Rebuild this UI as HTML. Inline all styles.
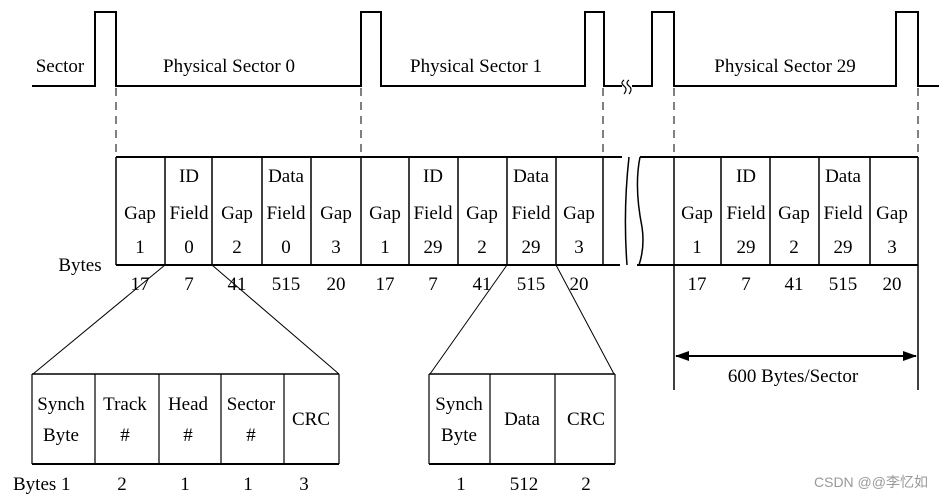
<!DOCTYPE html>
<html><head><meta charset="utf-8"><style>
html,body{margin:0;padding:0;background:#fff}
svg text{font-family:"Liberation Serif",serif;font-size:19px;fill:#000}
</style></head><body>
<svg width="949" height="499" viewBox="0 0 949 499" xmlns="http://www.w3.org/2000/svg">
<g stroke="#000" stroke-width="2" fill="none">
<path d="M32 86H95V12H116V86H361V12H381V86H585V12H604V86H622M632 86H652V12H674V86H896V12H918V86H939"/>
<path d="M116 157H622M640 157H918M116 265H620M637 265H918"/>
</g>
<path d="M624 80 q-4 3 0 6 q4 3 0 8 M629 80 q-4 3 0 6 q4 3 0 8" stroke="#000" stroke-width="1.2" fill="none"/>
<path d="M629 157 q-6 54 -2 108 M640 157 q-6 30 2 70 q3 20 -3 38" stroke="#000" stroke-width="1.5" fill="none"/>
<g stroke="#000" stroke-width="1" stroke-dasharray="8,6">
<path d="M116 88V157M361 88V157M603 88V157M674 88V157M918 88V157"/>
</g>
<g stroke="#000" stroke-width="1.5">
<path d="M116 157V265M165 157V265M212 157V265M262 157V265M311 157V265M361 157V265M409 157V265M458 157V265M507 157V265M556 157V265M603 157V265M674 157V390M721 157V265M770 157V265M819 157V265M870 157V265M918 157V390"/>
</g>
<g stroke="#000" stroke-width="1">
<path d="M165 265L33 374M212 265L339 374M507 265L430 374M556 265L614 374"/>
</g>
<g stroke="#000" fill="none">
<path d="M32 374H339M429 374H615" stroke-width="1.5"/>
<path d="M32 464H339M429 464H615" stroke-width="2"/>
<path d="M32 374V464M95 374V464M159 374V464M221 374V464M284 374V464M339 374V464M429 374V464M490 374V464M555 374V464M615 374V464" stroke-width="1.2"/>
<path d="M676 356H916" stroke-width="2"/>
</g>
<path d="M675 356l14-5v10z M917 356l-14-5v10z" fill="#000"/>
<g text-anchor="middle" transform="scale(1,1)">
<text x="60" y="72">Sector</text>
<text x="229" y="72">Physical Sector 0</text>
<text x="476" y="72">Physical Sector 1</text>
<text x="785" y="72">Physical Sector 29</text>
<text x="80" y="271">Bytes</text>
</g>
<g text-anchor="middle">
<text x="189" y="182">ID</text><text x="286" y="182">Data</text>
<text x="433" y="182">ID</text><text x="531" y="182">Data</text>
<text x="746" y="182">ID</text><text x="843" y="182">Data</text>
<text x="140" y="219">Gap</text><text x="189" y="219">Field</text><text x="237" y="219">Gap</text><text x="286" y="219">Field</text><text x="336" y="219">Gap</text>
<text x="385" y="219">Gap</text><text x="433" y="219">Field</text><text x="482" y="219">Gap</text><text x="531" y="219">Field</text><text x="579" y="219">Gap</text>
<text x="697" y="219">Gap</text><text x="746" y="219">Field</text><text x="794" y="219">Gap</text><text x="843" y="219">Field</text><text x="892" y="219">Gap</text>
<text x="140" y="253">1</text><text x="189" y="253">0</text><text x="237" y="253">2</text><text x="286" y="253">0</text><text x="336" y="253">3</text>
<text x="385" y="253">1</text><text x="433" y="253">29</text><text x="482" y="253">2</text><text x="531" y="253">29</text><text x="579" y="253">3</text>
<text x="697" y="253">1</text><text x="746" y="253">29</text><text x="794" y="253">2</text><text x="843" y="253">29</text><text x="892" y="253">3</text>
<text x="140" y="290">17</text><text x="189" y="290">7</text><text x="237" y="290">41</text><text x="286" y="290">515</text><text x="336" y="290">20</text>
<text x="385" y="290">17</text><text x="433" y="290">7</text><text x="482" y="290">41</text><text x="531" y="290">515</text><text x="579" y="290">20</text>
<text x="697" y="290">17</text><text x="746" y="290">7</text><text x="794" y="290">41</text><text x="843" y="290">515</text><text x="892" y="290">20</text>
<text x="793" y="382">600 Bytes/Sector</text>
<text x="61" y="410">Synch</text><text x="61" y="441">Byte</text>
<text x="125" y="410">Track</text><text x="125" y="441">#</text>
<text x="188" y="410">Head</text><text x="188" y="441">#</text>
<text x="251" y="410">Sector</text><text x="251" y="441">#</text>
<text x="311" y="425">CRC</text>
<text x="459" y="410">Synch</text><text x="459" y="441">Byte</text>
<text x="522" y="425">Data</text>
<text x="586" y="425">CRC</text>
<text x="122" y="490">2</text><text x="185" y="490">1</text><text x="248" y="490">1</text><text x="304" y="490">3</text>
<text x="461" y="490">1</text><text x="524" y="490">512</text><text x="586" y="490">2</text>
</g>
<text x="13" y="490">Bytes 1</text>
<text x="814" y="487" style="font-family:'Liberation Sans','Noto Sans CJK SC',sans-serif;font-size:14px;fill:#999">CSDN @@李忆如</text>
</svg>
</body></html>
